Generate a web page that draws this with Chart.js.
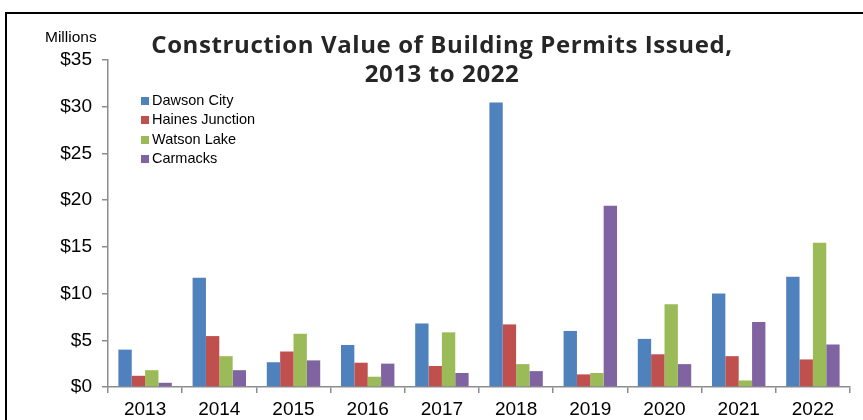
<!DOCTYPE html>
<html>
<head>
<meta charset="utf-8">
<script src="https://cdn.jsdelivr.net/npm/chart.js@4"></script>
<style>
  body { margin: 0; background: #fff; }
  #wrap { position: relative; width: 863px; height: 420px; overflow: hidden; }
  #frame { position: absolute; left: 5px; top: 12px; width: 900px; height: 450px; border: 2px solid #000; box-sizing: border-box; }
  #title { position: absolute; left: 122px; width: 640px; top: 29px; text-align: center;
           font-family: "Open Sans", sans-serif; font-weight: 700; font-size: 24px; line-height: 29px;
           letter-spacing: 0.6px; color: #262626; }
  #units { position: absolute; left: 45px; top: 28px; font-family: "Liberation Sans", Arial, sans-serif; font-size: 15.5px; color: #000; }
  #legend { position: absolute; left: 141px; top: 91px; font-family: "Liberation Sans", Arial, sans-serif; font-size: 14.5px; color: #000; }
  .item { height: 19.3px; line-height: 19.3px; white-space: nowrap; }
  .swatch { display: inline-block; width: 8px; height: 8px; margin-right: 3px; vertical-align: 0px; }
  canvas { position: absolute; left: 0; top: 0; }
</style>
</head>
<body>
<div id="wrap">
  <div id="frame"></div>
  <canvas id="chart" width="863" height="420"></canvas>
  <div id="units">Millions</div>
  <div id="title">Construction Value of Building Permits Issued,<br>2013 to 2022</div>
  <div id="legend"></div>
</div>
<script>
var years = ['2013', '2014', '2015', '2016', '2017', '2018', '2019', '2020', '2021', '2022'];
var seriesNames = ['Dawson City', 'Haines Junction', 'Watson Lake', 'Carmacks'];
var dawsonCity     = [4.0, 11.7, 2.65, 4.5, 6.8, 30.45, 6.0, 5.15, 10.0, 11.8];
var hainesJunction = [1.2, 5.45, 3.8, 2.6, 2.25, 6.7, 1.35, 3.5, 3.3, 2.95];
var watsonLake     = [1.8, 3.3, 5.7, 1.1, 5.85, 2.45, 1.5, 8.85, 0.7, 15.45];
var carmacks       = [0.45, 1.8, 2.85, 2.5, 1.5, 1.7, 19.4, 2.45, 6.95, 4.55];
var colors = ['#4F81BD', '#C0504D', '#9BBB59', '#8064A2'];

var values = [dawsonCity, hainesJunction, watsonLake, carmacks];
var datasets = [];
for (var i = 0; i < seriesNames.length; i++) {
    datasets.push({
        label: seriesNames[i],
        data: values[i],
        backgroundColor: colors[i],
        borderWidth: 0,
        categoryPercentage: 0.72,
        barPercentage: 1.0
    });
}

// html legend built from the series
var legend = document.getElementById('legend');
for (var i = 0; i < seriesNames.length; i++) {
    var row = document.createElement('div');
    row.className = 'item';
    var sw = document.createElement('span');
    sw.className = 'swatch';
    sw.style.background = colors[i];
    row.appendChild(sw);
    row.appendChild(document.createTextNode(seriesNames[i]));
    legend.appendChild(row);
}

var axisColor = '#8c8c8c';
var tickFont = { family: '"Liberation Sans", Arial, sans-serif', size: 19 };

new Chart(document.getElementById('chart'), {
    type: 'bar',
    data: { labels: years, datasets: datasets },
    options: {
        responsive: false,
        animation: false,
        layout: { padding: { top: 60, right: 13, bottom: 0, left: 0 } },
        plugins: { legend: { display: false }, tooltip: { enabled: false } },
        scales: {
            x: {
                offset: true,
                grid: { display: true, drawOnChartArea: false, offset: true, color: axisColor, tickLength: 6, lineWidth: 1.5 },
                border: { color: axisColor, width: 1.5 },
                ticks: { color: '#000', font: tickFont, padding: 5 },
                afterFit: function(scale) { scale.height = 33; }
            },
            y: {
                min: 0,
                max: 35,
                grid: { display: true, drawOnChartArea: false, color: axisColor, tickLength: 6, lineWidth: 1.5 },
                border: { color: axisColor, width: 1.5 },
                ticks: {
                    stepSize: 5,
                    color: '#000',
                    font: tickFont,
                    padding: 10,
                    callback: function(v) { return '$' + v; }
                },
                afterFit: function(scale) { scale.width = 108; }
            }
        }
    }
});
</script>
</body>
</html>
